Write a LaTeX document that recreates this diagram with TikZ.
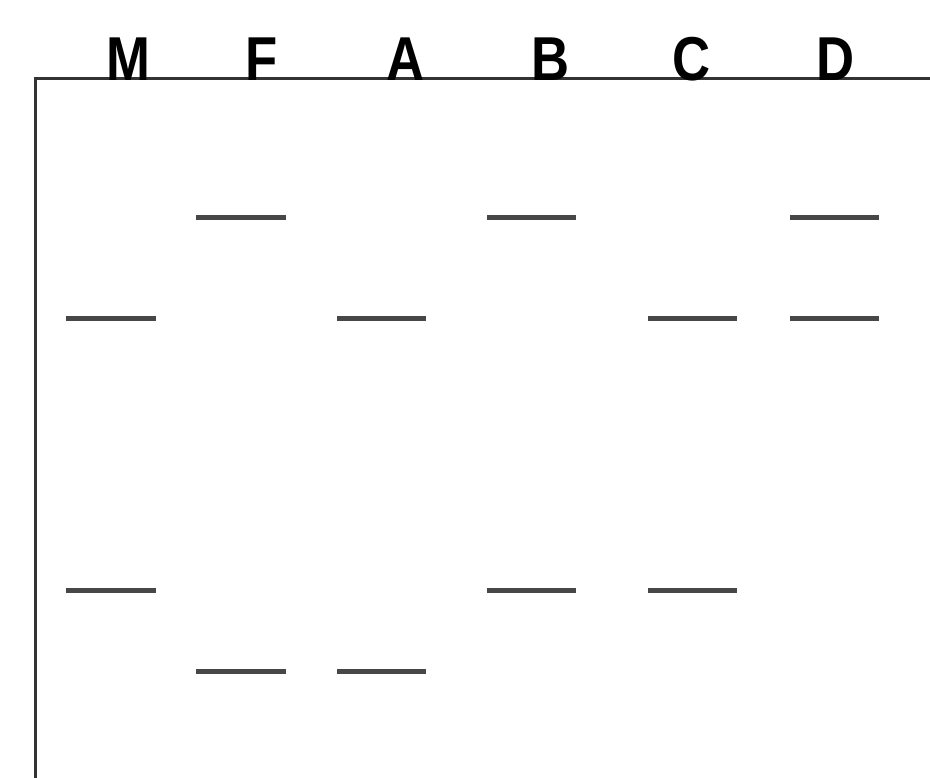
\documentclass[tikz,border=0pt]{standalone}
\usepackage{fontspec}
\setmainfont{Liberation Sans}
\begin{document}
\begin{tikzpicture}[x=1pt,y=-1pt,
  band/.style={line width=5pt,draw=black!72},
  lane/.style={font=\fontsize{62}{64}\selectfont\bfseries,anchor=base,inner sep=0pt,xscale=0.85}]
\useasboundingbox (0,0) rectangle (930,778);
\draw[line width=3pt,black!80] (35,778) coordinate (bl) -- (35,79) coordinate (tl) -- (930,79) coordinate (tr);
\foreach \n/\x in {M/128,F/262,A/406,B/551,C/692,D/836}{
  \node[lane] (l\n) at (\x,81) {\n};
}
\foreach \n/\a/\b/\y in {f1/196/286/218, b1/487/576/218, d1/790/879/218,
  m2/66/156/319, a2/337/426/319, c2/648/737/319, d2/790/879/319,
  m3/66/156/590, b3/487/576/590, c3/648/737/590,
  f4/196/286/671, a4/337/426/671}{
  \coordinate (\n s) at (\a,\y);
  \coordinate (\n e) at (\b,\y);
  \draw[band] (\n s) -- (\n e);
}
\end{tikzpicture}
\end{document}
